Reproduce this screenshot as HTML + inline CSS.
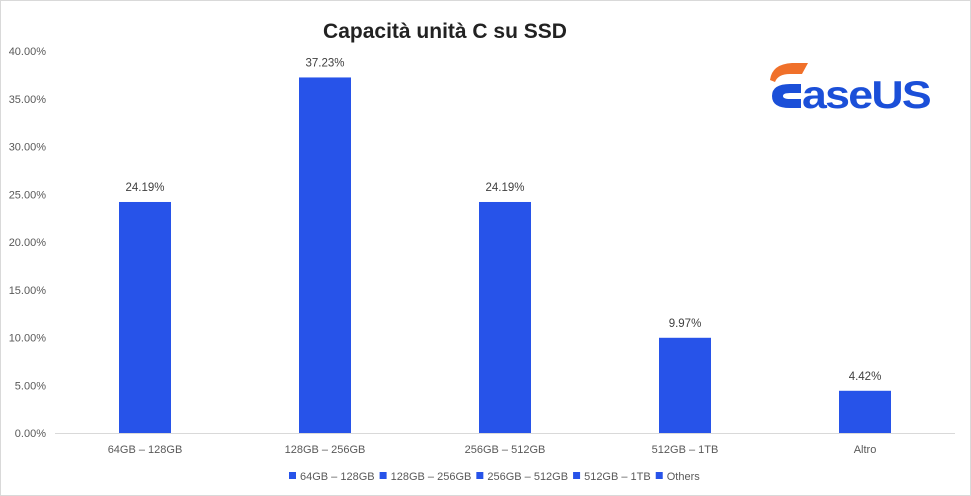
<!DOCTYPE html>
<html><head><meta charset="utf-8"><style>
body{margin:0;background:#fff;font-family:"Liberation Sans",sans-serif}
svg{display:block}
</style></head><body>
<svg id="c" width="971" height="496">
<rect x="0.5" y="0.5" width="970" height="495" fill="#fff" stroke="#d9d9d9"/>
<text x="445" y="38" text-anchor="middle" font-size="21" font-weight="bold" fill="#222">Capacità unità C su SSD</text>
<g>
<path d="M770 80 Q772 64 792 63 L808 63 L802 74 L790 74 Q778 74 775 82 Z" fill="#f0702a"/>
<path d="M801 84 L790 84 Q772 84 772 96 Q772 108 790 108 L801 108 L801 99 L790 99 Q783 99 783 96 Q783 93 790 93 L801 93 Z" fill="#1b4fd8"/>
<text x="802" y="108" font-size="39" font-weight="bold" fill="#1b4fd8" letter-spacing="-1.5" textLength="128" lengthAdjust="spacingAndGlyphs">aseUS</text>
</g>
<g id="yaxis"></g><g id="bars"></g><g id="xaxis"></g><g id="legend"></g>
</svg>
<script>
const categories=["64GB – 128GB","128GB – 256GB","256GB – 512GB","512GB – 1TB","Altro"];
const values=[24.19,37.23,24.19,9.97,4.42];
const yTicks=[0,5,10,15,20,25,30,35,40];
const legendLabels=["64GB – 128GB","128GB – 256GB","256GB – 512GB","512GB – 1TB","Others"];
const NS="http://www.w3.org/2000/svg";
const x0=55,x1=955,yb=433,yt=51,ymax=40;
const y=v=>yb-(v/ymax)*(yb-yt);
const bw=(x1-x0)/categories.length;
const xc=i=>x0+bw*(i+0.5);
function mk(t,a,p){const e=document.createElementNS(NS,t);for(const k in a)e.setAttribute(k,a[k]);p.appendChild(e);return e;}
const ya=document.getElementById('yaxis');
yTicks.forEach(v=>{const t=mk('text',{x:46,y:y(v)+4,'text-anchor':'end','font-size':11,fill:'#595959'},ya);t.textContent=v.toFixed(2)+'%';

});
const bg=document.getElementById('bars');
values.forEach((v,i)=>{const r=mk('rect',{x:xc(i)-26,y:y(v),width:52,height:yb-y(v),fill:'#2753e9'},bg);


const t=mk('text',{x:xc(i),y:y(v)-11,'text-anchor':'middle','font-size':11.5,fill:'#404040'},bg);t.textContent=v.toFixed(2)+'%';

});
const xa=document.getElementById('xaxis');
const ln=mk('line',{x1:x0,x2:x1,y1:yb+0.5,y2:yb+0.5,stroke:'#d9d9d9'},xa);


categories.forEach((c,i)=>{const t=mk('text',{x:xc(i),y:453,'text-anchor':'middle','font-size':11,fill:'#595959'},xa);t.textContent=c;

});
const lg=document.getElementById('legend');
let lx=289;
legendLabels.forEach(l=>{const g=mk('g',{},lg);


mk('rect',{x:lx,y:472,width:7,height:7,fill:'#2753e9'},g);
const t=mk('text',{x:lx+11,y:480,'font-size':11,fill:'#595959'},g);t.textContent=l;
lx+=11+t.getComputedTextLength()+5;});
</script>
</body></html>
